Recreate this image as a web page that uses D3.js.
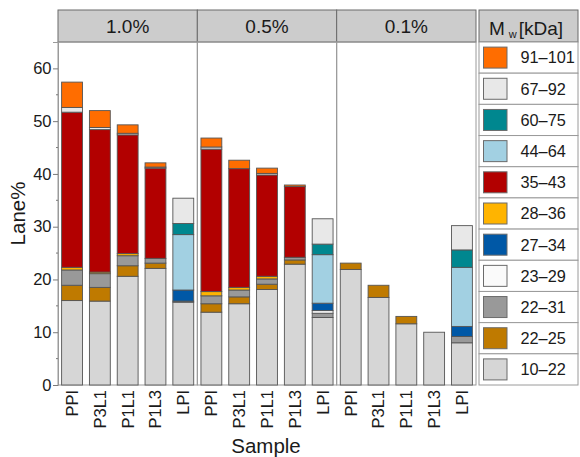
<!DOCTYPE html>
<html>
<head>
<meta charset="utf-8">
<script src="https://cdn.jsdelivr.net/npm/d3@7"></script>
<style>
  html, body { margin: 0; padding: 0; background: #fff; }
  svg { display: block; font-family: "Liberation Sans", Arial, sans-serif; }
</style>
</head>
<body>
<svg id="chart" width="580" height="457"></svg>
<script>
// Polymer concentrations (facets) and samples within each facet
const concentrations = ["1.0%", "0.5%", "0.1%"];
const samples = ["PPI", "P3L1", "P1L1", "P1L3", "LPI"];

// Molecular-weight ranges, bottom of stack first
const mwRanges = ["10–22", "22–25", "22–31", "23–29", "27–34", "28–36",
                  "35–43", "44–64", "60–75", "67–92", "91–101"];
const mwColors = ["#d6d6d6", "#bf7a00", "#999999", "#fafafa", "#0058a6", "#ffb400",
                  "#b20000", "#a2d0e2", "#00878f", "#e8e8e8", "#ff6d00"];

// Lane% per range; order: 1.0% (PPI..LPI), 0.5% (PPI..LPI), 0.1% (PPI..LPI)
const mw10_22  = [16.0, 15.9, 20.6, 22.1, 15.7,  13.8, 15.4, 18.1, 22.9, 12.8,  21.9, 16.6, 11.6, 10.0, 8.0];
const mw22_25  = [ 2.9,  2.6,  2.0,  1.0,  0.0,   1.6,  1.3,  1.0,  0.8,  0.0,   1.2,  2.3,  1.4,  0.0, 0.0];
const mw22_31  = [ 2.9,  2.6,  1.9,  0.9,  0.2,   1.5,  1.3,  1.0,  0.5,  0.8,   0.0,  0.0,  0.0,  0.0, 1.2];
const mw23_29  = [ 0.0,  0.0,  0.0,  0.0,  0.0,   0.0,  0.0,  0.0,  0.0,  0.5,   0.0,  0.0,  0.0,  0.0, 0.0];
const mw27_34  = [ 0.0,  0.0,  0.0,  0.0,  2.1,   0.0,  0.0,  0.0,  0.0,  1.4,   0.0,  0.0,  0.0,  0.0, 1.9];
const mw28_36  = [ 0.5,  0.3,  0.4,  0.0,  0.0,   0.8,  0.5,  0.5,  0.0,  0.0,   0.0,  0.0,  0.0,  0.0, 0.0];
const mw35_43  = [29.4, 27.0, 22.5, 17.1,  0.0,  27.0, 22.5, 19.2, 13.4,  0.0,   0.0,  0.0,  0.0,  0.0, 0.0];
const mw44_64  = [ 0.0,  0.0,  0.0,  0.0, 10.5,   0.0,  0.0,  0.0,  0.0,  9.2,   0.0,  0.0,  0.0,  0.0, 11.2];
const mw60_75  = [ 0.0,  0.0,  0.0,  0.0,  2.1,   0.0,  0.0,  0.0,  0.0,  2.0,   0.0,  0.0,  0.0,  0.0, 3.3];
const mw67_92  = [ 0.9,  0.4,  0.3,  0.2,  4.8,   0.4,  0.0,  0.3,  0.0,  4.8,   0.0,  0.0,  0.0,  0.0, 4.6];
const mw91_101 = [ 4.8,  3.2,  1.6,  0.8,  0.0,   1.7,  1.6,  1.0,  0.3,  0.0,   0.0,  0.0,  0.0,  0.0, 0.0];

const yTicks = [0, 10, 20, 30, 40, 50, 60];

const seriesValues = [mw10_22, mw22_25, mw22_31, mw23_29, mw27_34, mw28_36,
                      mw35_43, mw44_64, mw60_75, mw67_92, mw91_101];

// Rows for d3.stack: one per (concentration, sample)
const rows = [];
concentrations.forEach((c, ci) => {
  samples.forEach((s, si) => {
    const row = { conc: c, sample: s };
    mwRanges.forEach((r, ri) => { row[r] = seriesValues[ri][ci * samples.length + si]; });
    rows.push(row);
  });
});
const stacked = d3.stack().keys(mwRanges)(rows);

const svg = d3.select("#chart");
const plotLeft = 58, plotRight = 476, plotTop = 42, plotBottom = 385, stripTop = 10;
const textColor = "#1a1a1a";
const color = d3.scaleOrdinal().domain(mwRanges).range(mwColors);

const facet = d3.scaleBand().domain(concentrations).range([plotLeft, plotRight]);
const x = d3.scaleBand().domain(samples).range([0, facet.bandwidth()])
  .paddingInner(0.25).paddingOuter(0.13);
const y = d3.scaleLinear().domain([0, 65]).range([plotBottom, plotTop]);

// Facet strips
concentrations.forEach(c => {
  const g = svg.append("g").attr("transform", `translate(${facet(c)},0)`);
  g.append("rect").attr("x", 0).attr("y", stripTop)
    .attr("width", facet.bandwidth()).attr("height", plotTop - stripTop)
    .attr("fill", "#cccccc").attr("stroke", "#6b6b6b").attr("stroke-width", 1);
  g.append("text").attr("x", facet.bandwidth() / 2).attr("y", (stripTop + plotTop) / 2)
    .attr("dy", "0.36em").attr("text-anchor", "middle")
    .attr("font-size", 19).attr("fill", textColor).text(c);
});

// Panel frames
concentrations.forEach(c => {
  svg.append("rect").attr("x", facet(c)).attr("y", plotTop)
    .attr("width", facet.bandwidth()).attr("height", plotBottom - plotTop)
    .attr("fill", "none").attr("stroke", "#9a9a9a").attr("stroke-width", 1);
});

// Stacked bars
const bars = svg.append("g");
stacked.forEach(layer => {
  bars.selectAll(null)
    .data(layer.filter(d => d[1] - d[0] > 0))
    .join("rect")
    .attr("x", d => facet(d.data.conc) + x(d.data.sample))
    .attr("width", x.bandwidth())
    .attr("y", d => y(d[1]))
    .attr("height", d => y(d[0]) - y(d[1]))
    .attr("fill", color(layer.key))
    .attr("stroke", "#555555").attr("stroke-width", 0.9);
});

// Y axis
const yAxis = d3.axisLeft(y).tickValues(yTicks).tickSize(5).tickPadding(1.5);
const yg = svg.append("g").attr("transform", `translate(${plotLeft},0)`).call(yAxis);
yg.attr("font-family", null);
yg.select(".domain").attr("stroke", "#9a9a9a");
yg.selectAll(".tick line").attr("stroke", "#7a7a7a");
yg.selectAll(".tick text").attr("font-size", 16.5).attr("fill", textColor);
// Minor ticks at the midpoints
svg.append("g").selectAll("line")
  .data(yTicks.slice(0, -1).map(t => t + 5))
  .join("line")
  .attr("x1", plotLeft - 2).attr("x2", plotLeft)
  .attr("y1", d => y(d)).attr("y2", d => y(d))
  .attr("stroke", "#7a7a7a");

// X axis labels (rotated)
concentrations.forEach(c => {
  const g = svg.append("g").attr("transform", `translate(${facet(c)},0)`);
  samples.forEach(s => {
    g.append("text")
      .attr("transform", `translate(${x(s) + x.bandwidth() / 2},${plotBottom + 5}) rotate(-90)`)
      .attr("text-anchor", "end").attr("dy", "0.36em")
      .attr("font-size", 16.5).attr("fill", textColor).text(s);
  });
});

// Axis titles
svg.append("text")
  .attr("transform", `translate(18,${(plotTop + plotBottom) / 2}) rotate(-90)`)
  .attr("text-anchor", "middle").attr("dy", "0.36em")
  .attr("font-size", 20.5).attr("fill", textColor).text("Lane%");
svg.append("text")
  .attr("x", (plotLeft + plotRight) / 2 - 1).attr("y", 453)
  .attr("text-anchor", "middle").attr("font-size", 20.5).attr("fill", textColor)
  .text("Sample");

// Legend
const legX = 479, legW = 99, legTop = stripTop, headH = plotTop - stripTop;
const rowH = (plotBottom - plotTop) / mwRanges.length;
const leg = svg.append("g");
leg.append("rect").attr("x", legX).attr("y", legTop).attr("width", legW).attr("height", headH)
  .attr("fill", "#cccccc").attr("stroke", "#6b6b6b");
const title = leg.append("text").attr("x", legX + 10).attr("y", 34.5)
  .attr("font-size", 19).attr("fill", textColor);
title.append("tspan").text("M");
title.append("tspan").attr("font-size", 11).attr("dy", 3).attr("dx", 4).text("w");
title.append("tspan").attr("dy", -3).attr("dx", 2).text("[kDa]");

const legendOrder = mwRanges.slice().reverse();
legendOrder.forEach((r, i) => {
  const ry = plotTop + i * rowH;
  leg.append("rect").attr("x", legX).attr("y", ry).attr("width", legW).attr("height", rowH)
    .attr("fill", "#fff").attr("stroke", "#9a9a9a");
  leg.append("rect").attr("x", legX + 4.5).attr("y", ry + rowH / 2 - 10.5)
    .attr("width", 23.5).attr("height", 21)
    .attr("fill", color(r)).attr("stroke", "#6b6b6b");
  leg.append("text").attr("x", legX + 41.5).attr("y", ry + rowH / 2)
    .attr("dy", "0.36em").attr("font-size", 16.3).attr("fill", textColor).text(r);
});
</script>
</body>
</html>
